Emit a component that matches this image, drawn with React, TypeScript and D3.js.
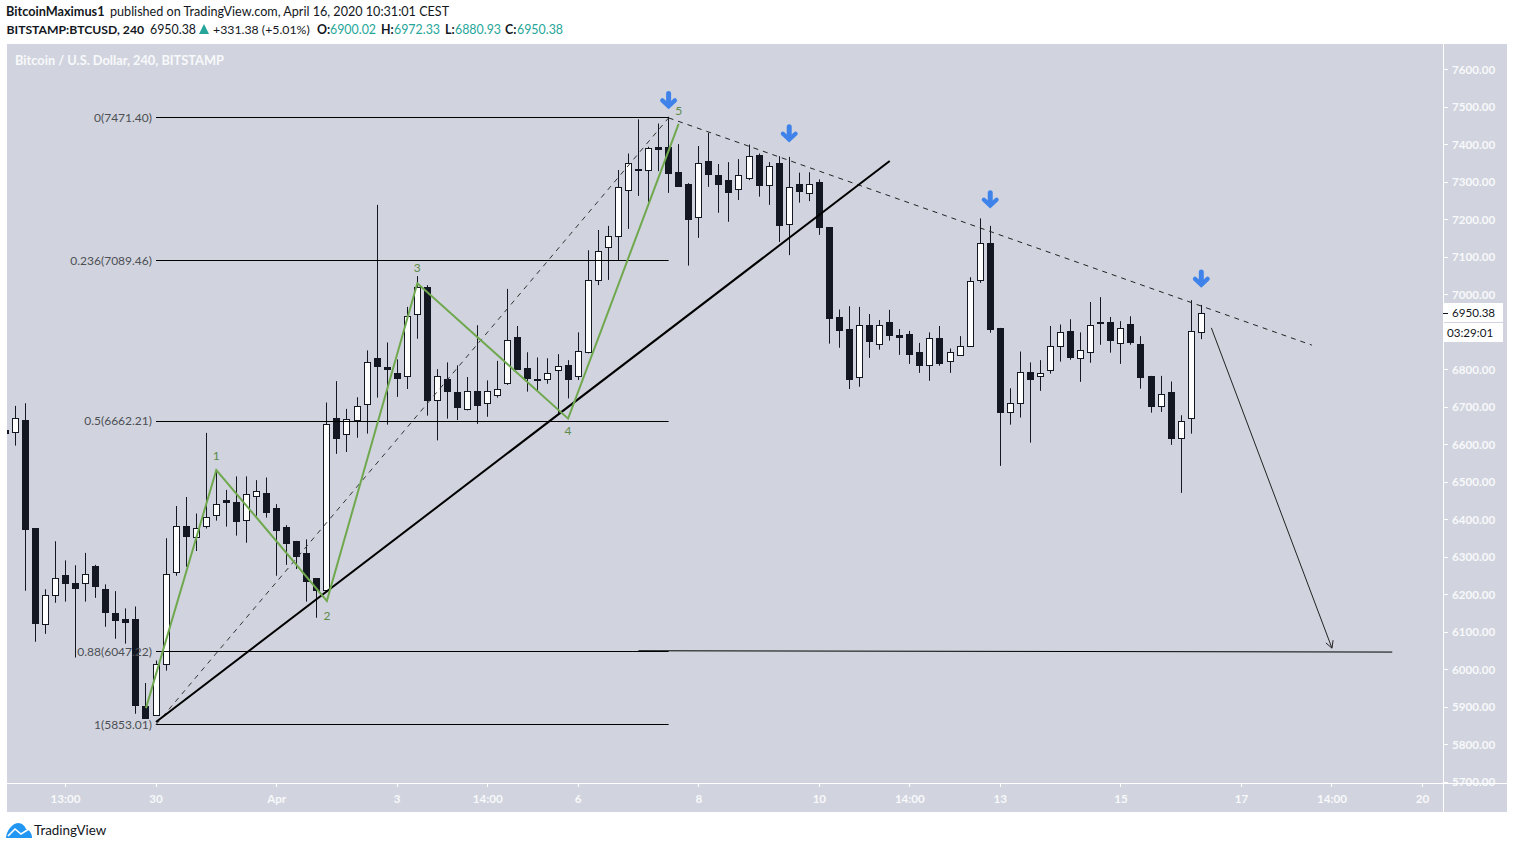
import * as d3 from 'd3'
import React from 'react'

// first entry is the bar cut off by the left edge of the pane
const opens = [6638, 6634, 6665, 6377, 6120, 6198, 6251, 6231, 6230, 6275, 6214, 6152, 6135, 6136, 5904, 5880, 6014, 6259, 6384, 6354, 6384, 6411, 6452, 6447, 6398, 6463, 6472, 6430, 6379, 6342, 6310, 6243, 6212, 6670, 6627, 6666, 6707, 6830, 6808, 6790, 6782, 6947, 7019, 6720, 6776, 6739, 6696, 6742, 6710, 6731, 6763, 6888, 6803, 6776, 6776, 6798, 6811, 6782, 6848, 7038, 7126, 7155, 7278, 7336, 7331, 7392, 7392, 7326, 7296, 7206, 7356, 7320, 7304, 7280, 7312, 7371, 7291, 7352, 7187, 7296, 7270, 7299, 7180, 6940, 6908, 6779, 6920, 6867, 6927, 6892, 6895, 6846, 6811, 6884, 6822, 6840, 6864, 7040, 7137, 6910, 6688, 6710, 6792, 6783, 6798, 6864, 6903, 6830, 6846, 6927, 6927, 6870, 6921, 6868, 6782, 6703, 6740, 6618, 6670, 6900.02]
const highs = [6680, 6703, 6710, 6377, 6214, 6342, 6291, 6278, 6311, 6279, 6227, 6209, 6163, 6168, 5964, 6024, 6350, 6436, 6460, 6416, 6631, 6532, 6479, 6515, 6515, 6505, 6512, 6441, 6385, 6343, 6347, 6244, 6712, 6769, 6695, 6726, 6851, 7239, 6872, 6827, 6967, 7049, 7025, 6801, 6819, 6811, 6780, 6918, 6771, 6823, 7015, 6916, 6846, 6832, 6830, 6841, 6825, 6899, 7118, 7172, 7183, 7332, 7376, 7467, 7394, 7456, 7474, 7401, 7297, 7396, 7431, 7348, 7353, 7361, 7400, 7376, 7353, 7369, 7367, 7325, 7326, 7307, 7180, 6960, 6969, 6967, 6948, 6932, 6959, 6908, 6903, 6871, 6899, 6916, 6856, 6889, 7046, 7203, 7183, 6911, 6750, 6848, 6819, 6825, 6916, 6920, 6934, 6899, 6980, 6993, 6940, 6929, 6942, 6889, 6783, 6783, 6768, 6678, 6985, 6972.33]
const lows = [6600, 6597, 6210, 6074, 6095, 6178, 6181, 6032, 6181, 6191, 6114, 6082, 6069, 5882, 5871, 5880, 5997, 6250, 6274, 6316, 6376, 6397, 6381, 6357, 6338, 6410, 6405, 6250, 6279, 6268, 6181, 6138, 6207, 6575, 6580, 6618, 6629, 6725, 6653, 6727, 6748, 6882, 6677, 6611, 6669, 6665, 6691, 6655, 6674, 6725, 6759, 6799, 6741, 6743, 6762, 6683, 6723, 6772, 6843, 7025, 7039, 7092, 7175, 7263, 7247, 7329, 7271, 7289, 7077, 7151, 7287, 7218, 7194, 7252, 7305, 7261, 7239, 7140, 7105, 7245, 7249, 7159, 6869, 6858, 6748, 6754, 6831, 6853, 6877, 6839, 6815, 6791, 6770, 6810, 6791, 6837, 6864, 7031, 6898, 6543, 6653, 6672, 6605, 6743, 6789, 6821, 6826, 6767, 6818, 6866, 6845, 6815, 6866, 6749, 6685, 6687, 6599, 6471, 6629, 6880.93]
const closes = [6631, 6670, 6375, 6125, 6200, 6243, 6231, 6218, 6254, 6223, 6154, 6133, 6127, 5906, 5871, 6014, 6254, 6382, 6357, 6378, 6408, 6442, 6447, 6397, 6467, 6475, 6421, 6373, 6338, 6303, 6237, 6212, 6654, 6618, 6667, 6704, 6819, 6810, 6802, 6778, 6944, 7019, 6719, 6783, 6743, 6701, 6742, 6706, 6743, 6749, 6880, 6802, 6778, 6773, 6791, 6810, 6775, 6850, 7040, 7115, 7155, 7286, 7352, 7333, 7390, 7389, 7325, 7290, 7202, 7352, 7322, 7295, 7274, 7320, 7368, 7293, 7344, 7186, 7288, 7277, 7294, 7181, 6938, 6906, 6775, 6918, 6877, 6919, 6893, 6887, 6842, 6813, 6883, 6818, 6846, 6864, 7035, 7136, 6909, 6687, 6710, 6792, 6775, 6791, 6864, 6899, 6834, 6851, 6918, 6924, 6879, 6910, 6874, 6781, 6703, 6734, 6618, 6664, 6902, 6950.38]

// 6900 is hidden behind the countdown label, so it gets no text
const priceTicks = [7600, 7500, 7400, 7300, 7200, 7100, 7000, 6800, 6700, 6600, 6500, 6400, 6300, 6200, 6100, 6000, 5900, 5800, 5700]
const timeTicks = [5, 14, 26, 38, 47, 56, 68, 80, 89, 98, 110, 122, 131, 140]
const timeLabels = ['13:00', '30', 'Apr', '3', '14:00', '6', '8', '10', '14:00', '13', '15', '17', '14:00', '20']

const fibRatios = ['0', '0.236', '0.5', '0.88', '1']
const fibPrices = [7471.4, 7089.46, 6662.21, 6047.22, 5853.01]

// elliott count, bar index and price
const waveBars = [13, 20, 31, 40, 55, 66]
const wavePrices = [5897, 6532, 6183, 7030, 6669, 7455]
const waveLabels = ['', '1', '2', '3', '4', '5']
const waveLabelPrices = [0, 6569, 6143, 7072, 6636, 7490]

const signalBars = [65, 77, 97, 118]
const signalPrices = [7519, 7430, 7254, 7043]

const supportBars = [14, 87]
const supportPrices = [5860, 7356]
const diagonalBars = [14, 65]
const diagonalPrices = [5853, 7471]
const resistanceBars = [65, 129]
const resistancePrices = [7471, 6865]
const targetBars = [62, 137]
const targetPrices = [6050, 6046.5]
const forecastBars = [119, 131]
const forecastPrices = [6911, 6057]

const W = 1514
const H = 849
const pane = { left: 7, top: 44, right: 1507, bottom: 812, axisX: 1443, axisY: 783 }
const sans = 'Lato, "Open Sans", sans-serif'
const ink = '#131722'
const paneBg = '#d1d4de'
const axisText = '#f8f9fb'

const x = d3.scaleLinear().domain([0, 118]).range([15.3, 1201.3])
const y = d3.scaleLinear().domain([7600, 5700]).range([69.5, 782])
const fmt = d3.format('.2f')
const crisp = (v: number) => Math.floor(v) + 0.5

const seg = (bars: number[], prices: number[]) =>
    d3.line<number>()
        .x((b) => x(b))
        .y((_, i) => y(prices[i]))(bars) as string

const arrowHead = () => {
    const x1 = x(forecastBars[1])
    const y1 = y(forecastPrices[1])
    const a = Math.atan2(y1 - y(forecastPrices[0]), x1 - x(forecastBars[0]))
    const p = (d: number) => `${x1 + 8 * Math.cos(a + d)},${y1 + 8 * Math.sin(a + d)}`
    return `M${p(Math.PI - 0.5)}L${x1},${y1}L${p(Math.PI + 0.5)}`
}

const App = (): JSX.Element => {
    const last = closes[closes.length - 1]

    return (
        <svg width={W} height={H} style={{ position: 'absolute', left: 0, top: 0, display: 'block' }} fontFamily={sans}>
            <rect x={0} y={0} width={W} height={H} fill="#fff" />
            <rect x={pane.left} y={pane.top} width={pane.right - pane.left} height={pane.bottom - pane.top} fill={paneBg} />
            <clipPath id="plot">
                <rect x={pane.left} y={pane.top} width={pane.axisX - pane.left} height={pane.axisY - pane.top} />
            </clipPath>

            {/* header */}
            <text x={6} y={16} fontSize={12.7} fontWeight={700} fill="#131722">BitcoinMaximus1</text>
            <text x={110} y={16} fontSize={12.6} fill="#131722">published on TradingView.com, April 16, 2020 10:31:01 CEST</text>
            <text x={6.5} y={34} fontSize={12.2} fontWeight={700} fill="#131722">BITSTAMP:BTCUSD, 240</text>
            <text x={150} y={34} fontSize={12.4} fill="#131722">{fmt(last)}</text>
            <path d="M204,24L209,34L199,34Z" fill="#26a69a" />
            <text x={213} y={34} fontSize={12.3} fill="#131722">+331.38 (+5.01%)</text>
            {[['O:', 317, 330, '6900.02'], ['H:', 381, 394, '6972.33'], ['L:', 445, 455, '6880.93'], ['C:', 505, 517, '6950.38']].map((d) => (
                <g key={d[0] as string} fontSize={12.4}>
                    <text x={d[1] as number} y={34} fontWeight={700} fill="#131722">{d[0]}</text>
                    <text x={d[2] as number} y={34} fill="#26a69a">{d[3]}</text>
                </g>
            ))}
            <text x={15} y={65} fontSize={12.8} fontWeight={700} fill={axisText}>Bitcoin / U.S. Dollar, 240, BITSTAMP</text>

            {/* candles */}
            <g clipPath="url(#plot)">
                {opens.map((o, k) => {
                    const c = closes[k]
                    const cx = crisp(x(k - 1))
                    const top = Math.round(y(Math.max(o, c)))
                    const bottom = Math.round(y(Math.min(o, c)))
                    return (
                        <g key={k}>
                            <line x1={cx} x2={cx} y1={y(highs[k])} y2={y(lows[k])} stroke={ink} />
                            <rect x={cx - 3} y={top + 0.5} width={6} height={Math.max(bottom - top, 1)} fill={c >= o ? '#fff' : ink} stroke={ink} />
                        </g>
                    )
                })}
            </g>

            {/* price axis */}
            <line x1={pane.axisX + 0.5} x2={pane.axisX + 0.5} y1={pane.top} y2={pane.bottom} stroke="#fff" />
            {priceTicks.map((p) => (
                <g key={p}>
                    <line x1={pane.axisX} x2={pane.axisX + 5} y1={crisp(y(p))} y2={crisp(y(p))} stroke="#fff" />
                    <text x={1452} y={y(p) + 4} fontSize={11.6} fontWeight={700} fill={axisText}>{fmt(p)}</text>
                </g>
            ))}
            <rect x={pane.axisX + 1} y={303} width={59} height={19} fill="#fff" />
            <rect x={pane.axisX + 1} y={323} width={59} height={19} fill="#fff" />
            <line x1={pane.axisX} x2={pane.axisX + 5} y1={crisp(y(last))} y2={crisp(y(last))} stroke={ink} />
            <text x={1452} y={y(last) + 4} fontSize={11.6} fill={ink}>{fmt(last)}</text>
            <text x={1447} y={337} fontSize={11.6} fill={ink}>03:29:01</text>

            {/* time axis */}
            <line x1={pane.left} x2={pane.right} y1={pane.axisY + 0.5} y2={pane.axisY + 0.5} stroke="#fff" />
            {timeTicks.map((t, k) => (
                <g key={t}>
                    <line x1={crisp(x(t))} x2={crisp(x(t))} y1={pane.axisY} y2={pane.axisY + 4} stroke="#fff" />
                    <text x={x(t)} y={803} textAnchor="middle" fontSize={11.6} fontWeight={700} fill={axisText}>{timeLabels[k]}</text>
                </g>
            ))}

            {/* drawings */}
            <g clipPath="url(#plot)" fill="none">
                {fibPrices.map((p) => (
                    <line key={p} x1={x(14)} x2={x(65)} y1={crisp(y(p))} y2={crisp(y(p))} stroke="#000" />
                ))}
                <path d={seg(targetBars, targetPrices)} stroke="#000" />
                <path d={seg(diagonalBars, diagonalPrices)} stroke="#333" strokeDasharray="5 5" />
                <path d={seg(resistanceBars, resistancePrices)} stroke="#222" strokeDasharray="5 5" />
                <path d={seg(supportBars, supportPrices)} stroke="#000" strokeWidth={2} />
                <path d={seg(waveBars, wavePrices)} stroke="#6fa84e" strokeWidth={2} />
                <path d={seg(forecastBars, forecastPrices)} stroke="#222" />
                <path d={arrowHead()} stroke="#222" />
            </g>
            {fibPrices.map((p, k) => (
                <text key={p} x={152} y={y(p) + 4} textAnchor="end" fontSize={12} fill="#4d4f55">{`${fibRatios[k]}(${fmt(p)})`}</text>
            ))}
            {waveLabels.map((l, k) =>
                l ? (
                    <text key={l} x={x(waveBars[k])} y={y(waveLabelPrices[k]) + 4} textAnchor="middle" fontSize={12} fill="#5d8a4a">{l}</text>
                ) : null,
            )}
            {signalBars.map((b, k) => (
                <g key={b} transform={`translate(${x(b)},${y(signalPrices[k])})`} fill="none" stroke="#3f83ea" strokeLinecap="round">
                    <path d="M0,-6.5V5" strokeWidth={5} />
                    <path d="M-6.3,0.5L0,6.3L6.3,0.5" strokeWidth={4.4} />
                </g>
            ))}

            {/* footer logo */}
            <path d="M6,838C6,832 12,823 18,823C22,823 25,826 26,829C30,830 32,834 32,838Z" fill="#2196f3" />
            <path d="M8,836L15,829L21,834L29,829" fill="none" stroke="#fff" strokeWidth={1.6} />
            <text x={34} y={835} fontSize={13.4} fill="#131722">TradingView</text>
        </svg>
    )
}

export default App
